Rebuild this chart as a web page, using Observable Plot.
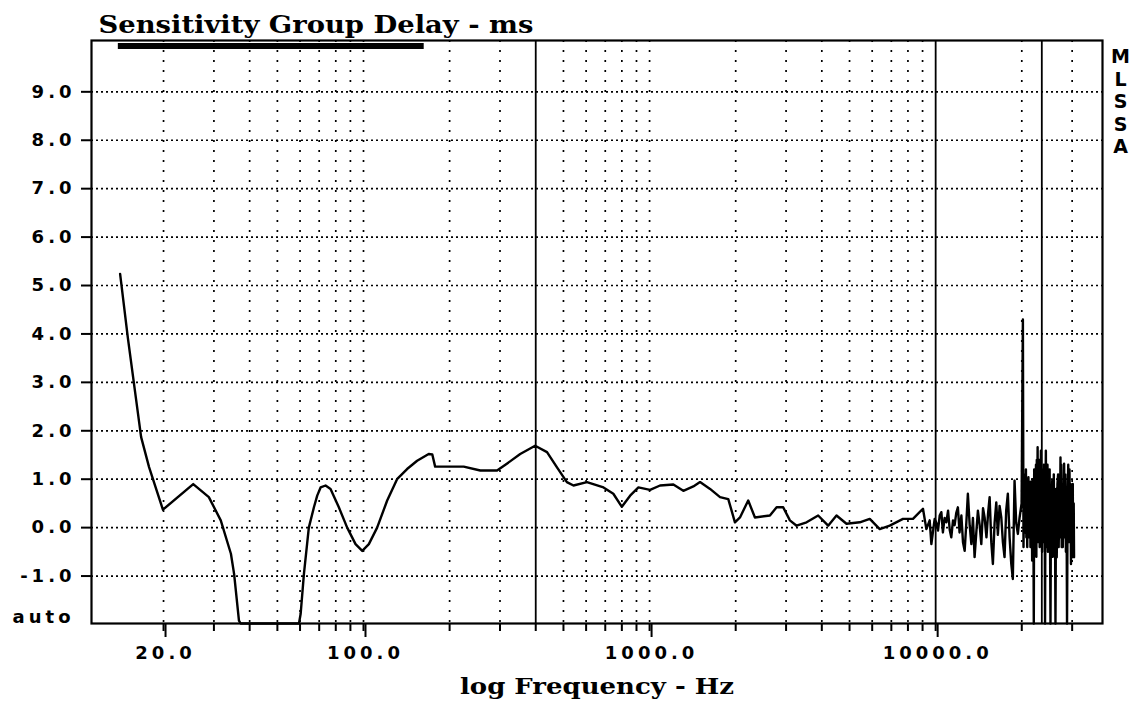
<!DOCTYPE html>
<html><head><meta charset="utf-8">
<script src="https://cdn.jsdelivr.net/npm/d3@7"></script>
<script src="https://cdn.jsdelivr.net/npm/@observablehq/plot@0.6"></script>
<style>
html,body{margin:0;padding:0;background:#fff;}
#chart svg{display:block;}
g[aria-label="x-axis tick label"] text, g[aria-label="y-axis tick label"] text { letter-spacing: 4px; }
</style></head><body><div id="chart"></div>
<script>
// Sensitivity group delay (ms) vs frequency (Hz)
const lowFreqHz = [
  14.1, 15.0, 16.0, 16.7, 17.8, 19.9, 25.4, 28.8, 31.7, 34.4, 35.3, 36.7, 37.2,
  59.5, 60.3, 61.9, 64.4, 67.1, 68.9, 70.8, 73.7, 76.7, 82.0, 87.7, 93.8, 99.0,
  104.4, 111.6, 121, 131, 142, 154, 169, 174, 178, 191, 224, 256, 293, 317, 353,
  398, 438, 474, 514, 542, 604, 690, 747, 800, 855, 914, 1004, 1088, 1211, 1312,
  1422, 1501, 1627, 1763, 1884, 1988, 2070, 2212, 2335, 2634, 2780, 2931, 3094,
  3265, 3538, 3884, 4209, 4502, 4879, 5429, 5884, 6376, 6910, 7689, 8331, 9030,
  9279, 9530, 9661, 9920
];
const lowDelayMs = [
  5.24, 3.93, 2.69, 1.87, 1.25, 0.37, 0.90, 0.63, 0.15, -0.54, -0.96, -1.92, -2.0,
  -2.0, -1.78, -0.96, 0.0, 0.42, 0.66, 0.83, 0.87, 0.80, 0.42, 0.0, -0.34, -0.48,
  -0.34, 0.0, 0.56, 1.0, 1.21, 1.38, 1.52, 1.51, 1.26, 1.26, 1.26, 1.18, 1.18, 1.32, 1.52,
  1.69, 1.56, 1.25, 0.94, 0.87, 0.94, 0.83, 0.70, 0.43, 0.66, 0.83, 0.78, 0.87, 0.89, 0.76,
  0.85, 0.94, 0.80, 0.63, 0.59, 0.11, 0.21, 0.56, 0.21, 0.25, 0.42, 0.42, 0.15,
  0.04, 0.11, 0.25, 0.04, 0.25, 0.08, 0.11, 0.18, -0.03, 0.04, 0.18, 0.18, 0.39,
  -0.03, 0.15, -0.34, 0.18
];
const hfFreqHz = [
  10050, 10190, 10330, 10470, 10600, 10750, 10900, 11050, 11200, 11340,
  11500, 11650, 11800, 11960, 12120, 12300, 12460, 12630, 12800, 12960,
  13150, 13330, 13500, 13680, 13870, 14050, 14250, 14440, 14640, 14830,
  15050, 15250, 15440, 15650, 15850, 16070, 16290, 16500, 16730, 16960,
  17180, 17410, 17640, 17880, 18130, 18380, 18610, 18870, 19120, 19380
];
const hfDelayMs = [
  0.10, -0.06, 0.25, 0.32, -0.10, 0.20, 0.11, 0.35, -0.05, -0.20,
  0.15, 0.05, 0.30, 0.42, -0.10, 0.25, -0.30, -0.48, 0.10, 0.70,
  0.05, -0.34, 0.20, -0.61, -0.10, 0.35, 0.05, -0.34, 0.40, 0.21,
  -0.20, 0.30, 0.63, -0.30, -0.75, 0.10, 0.52, -0.15, 0.45, 0.21,
  -0.30, -0.61, 0.35, 0.70, -0.20, -0.75, -1.06, 0.97, 0.10, -0.13
];
const topFreqHz = [
  19650, 19970, 20180, 20280, 20370, 20440, 20500, 20610, 20680, 20750,
  20830, 20900, 20970, 21030, 21100, 21170, 21240, 21300, 21380, 21450,
  21520, 21600, 21670, 21740, 21810, 21880, 21960, 22030, 22100, 22180,
  22260, 22340, 22420, 22490, 22570, 22640, 22720, 22790, 22870, 22940,
  23020, 23100, 23180, 23260, 23330, 23400, 23480, 23550, 23640, 23720,
  23800, 23880, 23960, 24040, 24120, 24200, 24280, 24360, 24440, 24520,
  24600, 24690, 24780, 24860, 24950, 25030, 25110, 25200, 25310, 25430,
  25550, 25670, 25740, 25810, 25880, 25950, 26020, 26090, 26160, 26230,
  26360, 26500, 26650, 26790, 26920, 27050, 27180, 27310, 27400, 27490,
  27580, 27670, 27820, 27970, 28120, 28270, 28400, 28530, 28660, 28790,
  28930, 29070, 29210, 29360, 29480, 29600, 29720, 29830, 29920, 30000,
  30070, 30150, 30230, 30300, 30380, 30460
];
const topDelayMs = [
  0.21, 0.50, 4.30, -0.40, 0.60, -0.10, 1.10, 0.20, 1.20, -0.20,
  0.70, -0.40, 0.90, 0.10, 1.04, -0.20, 0.95, -0.10, 0.70, -0.40,
  0.95, 0.10, 0.80, -0.68, 1.00, 0.20, 0.10, -2.0, 1.20, -0.20,
  1.11, 0.20, 1.30, -0.60, 1.40, 0.30, 1.66, -0.30, 1.10, 0.20,
  1.40, -0.40, 0.90, 0.10, 1.59, 0.20, 1.20, -0.50, 1.00, 0.10,
  0.80, 1.30, -0.30, 0.90, -2.0, 0.70, 1.59, -0.40, 1.10, 0.20,
  1.30, -0.50, 0.90, 0.20, 0.40, 1.20, -0.30, -2.0, 0.80, 0.30,
  0.97, -0.60, 0.60, -0.30, 1.10, 0.20, 0.30, 0.80, -0.50, -2.0,
  0.80, -0.61, 0.90, 1.10, -0.40, 0.56, -0.20, 1.45, 0.30, 1.30,
  -0.40, 0.90, -0.40, 0.40, 1.32, -0.20, 1.10, -0.50, 0.80, -2.0,
  0.60, 1.30, -0.30, 1.20, 0.20, 0.90, -0.75, 0.40, -0.20, 0.63,
  -0.61, 0.90, -0.50, 0.40, 0.50, -0.61
];
const yTickValues = [-1, 0, 1, 2, 3, 4, 5, 6, 7, 8, 9];
const yTickLabels = ["-1.0", "0.0", "1.0", "2.0", "3.0", "4.0", "5.0", "6.0", "7.0", "8.0", "9.0"];
const gridFreqs = [20, 30, 40, 50, 60, 70, 80, 90, 100, 200, 300, 500, 600, 700, 800, 900, 1000,
  2000, 3000, 4000, 5000, 6000, 7000, 8000, 9000, 20000, 30000];
const tickFreqs = [20, 30, 40, 50, 60, 70, 80, 90, 100, 200, 300, 400, 500, 600, 700, 800, 900, 1000,
  2000, 3000, 4000, 5000, 6000, 7000, 8000, 9000, 10000, 20000, 30000];
const majorFreqs = [20, 100, 1000, 10000];
const majorLabels = ["20.0", "100.0", "1000.0", "10000.0"];
const markerFreqs = [400, 10000, 23500];
const windowRange = [13.9, 163];
const titleText = "Sensitivity Group Delay - ms";
const xLabelText = "log Frequency - Hz";
const sideLabel = ["M", "L", "S", "S", "A"];
const bottomLabel = "auto";

const freqHz = lowFreqHz.concat(hfFreqHz, topFreqHz);
const delayMs = lowDelayMs.concat(hfDelayMs, topDelayMs);
const data = freqHz.map((f, i) => ({f, v: delayMs[i]}));
const yTop = 10.06;

const chart = Plot.plot({
  width: 1138,
  height: 709,
  marginLeft: 91,
  marginRight: 36,
  marginTop: 40,
  marginBottom: 86,
  style: {fontFamily: "DejaVu Sans", fontSize: "18px", fontWeight: "bold", color: "black", background: "white"},
  x: {type: "log", domain: [11.2, 38300]},
  y: {domain: [-1.98, yTop], clamp: true},
  marks: [
    Plot.gridY(yTickValues, {stroke: "black", strokeOpacity: 1, strokeWidth: 1.7, strokeDasharray: "2,3"}),
    Plot.gridX(gridFreqs, {stroke: "black", strokeOpacity: 1, strokeWidth: 1.7, strokeDasharray: "2,8"}),
    Plot.ruleX(markerFreqs, {stroke: "black", strokeWidth: 1.8}),
    Plot.ruleY([{a: windowRange[0], b: windowRange[1]}], {y: () => yTop, x1: "a", x2: "b", stroke: "black", strokeWidth: 6, dy: 5.5}),
    Plot.line(data, {x: "f", y: "v", stroke: "black", strokeWidth: 2.4}),
    Plot.frame({stroke: "black", strokeWidth: 2.2}),
    Plot.axisY(yTickValues, {tickSize: 10, tickPadding: 6, strokeWidth: 2, label: null,
      tickFormat: d => yTickLabels[yTickValues.indexOf(d)], fontSize: 18, fontWeight: "bold"}),
    Plot.axisX(tickFreqs, {tickSize: 8, strokeWidth: 2, label: null, tickFormat: () => ""}),
    Plot.axisX(majorFreqs, {tickSize: 14, tickPadding: 9, strokeWidth: 2, label: null, dx: 2,
      tickFormat: d => majorLabels[majorFreqs.indexOf(d)], fontSize: 18, fontWeight: "bold"}),
    Plot.text([bottomLabel], {text: d => d, frameAnchor: "bottom-left", dx: -17, dy: -6,
      textAnchor: "end", lineAnchor: "middle", fontSize: 18, fontWeight: "bold"}),
    Plot.text([titleText], {text: d => d, frameAnchor: "top-left", dx: 7, dy: -8,
      textAnchor: "start", lineAnchor: "bottom", fontFamily: "DejaVu Serif", fontSize: 24, fontWeight: "bold"}),
    Plot.text([xLabelText], {text: d => d, frameAnchor: "bottom", dy: 70,
      textAnchor: "middle", lineAnchor: "bottom", fontFamily: "DejaVu Serif", fontSize: 23, fontWeight: "bold"}),
    Plot.text([sideLabel.join("\n")], {text: d => d, frameAnchor: "top-right", dx: 18, dy: 7,
      textAnchor: "middle", lineAnchor: "top", lineHeight: 1.18, fontSize: 19, fontWeight: "bold"})
  ]
});
document.getElementById("chart").appendChild(chart);
const svg = d3.select(chart);
svg.selectAll("text").filter(function() { return this.textContent === titleText; })
  .attr("textLength", 435).attr("lengthAdjust", "spacingAndGlyphs");
svg.selectAll("text").filter(function() { return this.textContent === xLabelText; })
  .attr("textLength", 274).attr("lengthAdjust", "spacingAndGlyphs");
svg.selectAll("text").filter(function() { return this.textContent === bottomLabel; })
  .style("letter-spacing", "4px");
</script></body></html>
